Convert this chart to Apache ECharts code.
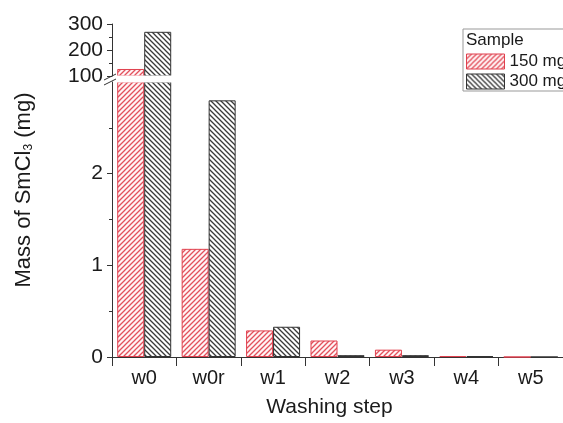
<!DOCTYPE html>
<html style="height:100%">
   <head>
       <meta charset="utf-8">
   </head>
   <body style="height:100%; margin: 0; background:#fff">
       <div id="container" style="width:563px; height:423px"></div>
       <script src="https://cdn.jsdelivr.net/npm/echarts@6/dist/echarts.min.js"></script>
       <script type="text/javascript">
        var steps = ['w0', 'w0r', 'w1', 'w2', 'w3', 'w4', 'w5'];
        var mass150 = [127, 1.18, 0.29, 0.18, 0.08, 0.01, 0];
        var mass300 = [270, 2.80, 0.33, 0.02, 0.02, 0.01, 0];
        var upperTicks = [100, 200, 300];
        var lowerTicks = [0, 1, 2];

        var font = "'Liberation Sans', Arial, sans-serif";

        // hatch tile, dir 1 = "/", dir -1 = "\"
        function hatch(stroke, bg, dir) {
            var s = 5;
            var c = document.createElement('canvas');
            c.width = s; c.height = s;
            var g = c.getContext('2d');
            g.fillStyle = bg;
            g.fillRect(0, 0, s, s);
            g.strokeStyle = stroke;
            g.lineWidth = 1.3;
            g.beginPath();
            if (dir > 0) {
                g.moveTo(0, s); g.lineTo(s, 0);
                g.moveTo(-1, 1); g.lineTo(1, -1);
                g.moveTo(s - 1, s + 1); g.lineTo(s + 1, s - 1);
            } else {
                g.moveTo(0, 0); g.lineTo(s, s);
                g.moveTo(-1, s - 1); g.lineTo(1, s + 1);
                g.moveTo(s - 1, -1); g.lineTo(s + 1, 1);
            }
            g.stroke();
            return { image: c, repeat: 'repeat' };
        }

        var redFill = hatch('#e2505c', '#fff4f5', 1);
        var blackFill = hatch('#3a3a3a', '#ffffff', -1);
        var redStyle = { color: redFill, borderColor: '#e0404e', borderWidth: 1 };
        var blackStyle = { color: blackFill, borderColor: '#333', borderWidth: 1 };

        var axisCol = '#333';
        var gridPos = { left: 112, width: 459 };

        var myChart = echarts.init(document.getElementById('container'));

        function yAxisCommon(gridIndex, min, max, interval, ticks) {
            return {
                type: 'value', gridIndex: gridIndex, min: min, max: max, interval: interval,
                splitLine: { show: false },
                axisLine: { show: true, lineStyle: { color: axisCol, width: 1 } },
                axisTick: { show: true, inside: false, length: 5, customValues: ticks, lineStyle: { color: axisCol } },
                minorTick: { show: true, splitNumber: 2, length: 3, lineStyle: { color: axisCol } },
                axisLabel: { customValues: ticks, margin: 9, color: '#1a1a1a', fontSize: 21, fontFamily: font }
            };
        }

        var option = {
            animation: false,
            backgroundColor: '#fff',
            grid: [
                { left: gridPos.left, width: gridPos.width, top: 24, height: 52 },
                { left: gridPos.left, width: gridPos.width, top: 82, height: 278 }
            ],
            xAxis: [
                { type: 'category', gridIndex: 0, data: steps, show: false },
                {
                    type: 'category', gridIndex: 1, data: steps,
                    axisLine: { lineStyle: { color: axisCol, width: 1 } },
                    axisTick: { show: true, inside: false, length: 9, lineStyle: { color: axisCol } },
                    axisLabel: { margin: 11, color: '#1a1a1a', fontSize: 20, fontFamily: font },
                    name: 'Washing step', nameLocation: 'middle', nameGap: 40,
                    nameTextStyle: { color: '#1a1a1a', fontSize: 21, fontFamily: font, padding: [0, 16, 0, 0] }
                }
            ],
            yAxis: [
                yAxisCommon(0, 100, 300, 100, upperTicks),
                yAxisCommon(1, 0, 3, 1, lowerTicks)
            ],
            legend: {
                left: 466, top: 53, orient: 'vertical', padding: 0,
                itemWidth: 38, itemHeight: 15, itemGap: 3,
                textStyle: { fontSize: 17, color: '#1a1a1a', fontFamily: font },
                data: [
                    { name: '150 mg', icon: 'rect', itemStyle: redStyle },
                    { name: '300 mg', icon: 'rect', itemStyle: blackStyle }
                ]
            },
            graphic: [
                // white band hiding the bar edges at the axis break (w0 only)
                {
                    type: 'rect', shape: { x: 113, y: 75.5, width: 62, height: 7 },
                    style: { fill: '#fff' }, z: 9
                },
                {
                    type: 'rect', shape: { x: 463, y: 29, width: 120, height: 62 },
                    style: { fill: 'none', stroke: '#999', lineWidth: 1 }, z: 1
                },
                {
                    type: 'text', x: 466, y: 40,
                    style: { text: 'Sample', fill: '#1a1a1a', font: '17px ' + font, verticalAlign: 'middle' }
                },
                {
                    type: 'text', x: 24, y: 190, rotation: Math.PI / 2,
                    style: {
                        text: 'Mass of SmCl{sub|3} (mg)',
                        font: '22px ' + font, fill: '#1a1a1a',
                        align: 'center', verticalAlign: 'middle',
                        rich: { sub: { fontSize: 12, fontFamily: font, fill: '#1a1a1a', padding: [9, 0, 0, 0] } }
                    }
                },
                {
                    type: 'line', shape: { x1: 104, y1: 80, x2: 116, y2: 74 },
                    style: { stroke: axisCol, lineWidth: 1 }, z: 10
                },
                {
                    type: 'line', shape: { x1: 104, y1: 85, x2: 116, y2: 79 },
                    style: { stroke: axisCol, lineWidth: 1 }, z: 10
                }
            ],
            series: [
                { name: '150 mg', type: 'bar', xAxisIndex: 0, yAxisIndex: 0, data: mass150, barWidth: 27, barGap: '0%', itemStyle: redStyle },
                { name: '300 mg', type: 'bar', xAxisIndex: 0, yAxisIndex: 0, data: mass300, barWidth: 27, barGap: '0%', itemStyle: blackStyle },
                { name: '150 mg', type: 'bar', xAxisIndex: 1, yAxisIndex: 1, data: mass150, barWidth: 27, barGap: '0%', itemStyle: redStyle },
                { name: '300 mg', type: 'bar', xAxisIndex: 1, yAxisIndex: 1, data: mass300, barWidth: 27, barGap: '0%', itemStyle: blackStyle }
            ]
        };

        myChart.setOption(option);
       </script>
   </body>
</html>
